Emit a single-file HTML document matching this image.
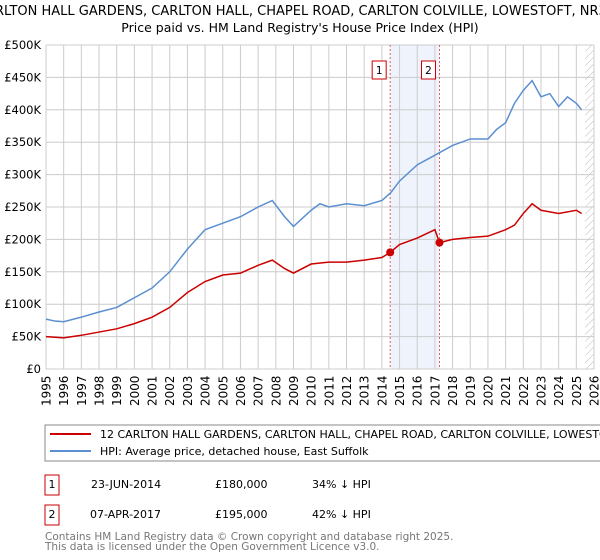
<!DOCTYPE html>
<html><head><meta charset="utf-8"><style>
body{margin:0;background:#fff;font-family:"Liberation Sans","DejaVu Sans",sans-serif;}
svg{display:block;}
svg text{font-family:"DejaVu Sans","Liberation Sans",sans-serif;}
</style></head><body>
<svg width="600" height="560" viewBox="0 0 600 560">
<defs><pattern id="h" width="5" height="5" patternUnits="userSpaceOnUse" patternTransform="rotate(45)"><line x1="0" y1="0" x2="0" y2="5" stroke="#bbb" stroke-width="1"/></pattern></defs>
<text x="300" y="15" text-anchor="middle" font-size="13">12 CARLTON HALL GARDENS, CARLTON HALL, CHAPEL ROAD, CARLTON COLVILLE, LOWESTOFT, NR33 8BL</text>
<text x="300" y="32" text-anchor="middle" font-size="12.5">Price paid vs. HM Land Registry's House Price Index (HPI)</text>
<g id="grid"></g><g id="marks"></g><g id="xlabels"></g>
<g>
<rect x="45" y="425" width="570" height="36" fill="#fff" stroke="#888"/>
<line x1="50" y1="434" x2="91" y2="434" stroke="#cc0000" stroke-width="2"/>
<text x="100" y="438" font-size="11">12 CARLTON HALL GARDENS, CARLTON HALL, CHAPEL ROAD, CARLTON COLVILLE, LOWESTOFT, NR33 8BL</text>
<line x1="50" y1="451" x2="91" y2="451" stroke="#5b8fd1" stroke-width="2"/>
<text x="100" y="455" font-size="11">HPI: Average price, detached house, East Suffolk</text>
</g>
<g font-size="11">
<rect x="45" y="475" width="14" height="20" fill="#fff" stroke="#cc0000"/><text x="52" y="488" text-anchor="middle">1</text>
<text x="91" y="488">23-JUN-2014</text><text x="215" y="488">£180,000</text><text x="312" y="488">34% ↓ HPI</text>
<rect x="45" y="505" width="14" height="20" fill="#fff" stroke="#cc0000"/><text x="52" y="518" text-anchor="middle">2</text>
<text x="90" y="518">07-APR-2017</text><text x="215" y="518">£195,000</text><text x="312" y="518">42% ↓ HPI</text>
</g>
<text x="45" y="540" font-size="10.5" fill="#777">Contains HM Land Registry data © Crown copyright and database right 2025.</text>
<text x="45" y="550" font-size="10.5" fill="#777">This data is licensed under the Open Government Licence v3.0.</text>
</svg>
<script>
const hpiYears=[1995,1995.5,1996,1997,1998,1999,2000,2001,2002,2003,2004,2005,2006,2007,2007.8,2008.5,2009,2010,2010.5,2011,2012,2013,2014,2014.5,2015,2016,2017,2018,2019,2020,2020.5,2021,2021.5,2022,2022.5,2023,2023.5,2024,2024.5,2025,2025.3];
const hpiValues=[77000,74000,73000,80000,88000,95000,110000,125000,150000,185000,215000,225000,235000,250000,260000,235000,220000,245000,255000,250000,255000,252000,260000,272000,290000,315000,330000,345000,355000,355000,370000,380000,410000,430000,445000,420000,425000,405000,420000,410000,400000];
const ppYears=[1995,1996,1997,1998,1999,2000,2001,2002,2003,2004,2005,2006,2007,2007.8,2008.5,2009,2010,2011,2012,2013,2014,2014.47,2015,2016,2017,2017.26,2018,2019,2020,2021,2021.5,2022,2022.5,2023,2024,2025,2025.3];
const ppValues=[50000,48000,52000,57000,62000,70000,80000,95000,118000,135000,145000,148000,160000,168000,155000,148000,162000,165000,165000,168000,172000,180000,192000,202000,215000,195000,200000,203000,205000,215000,222000,240000,255000,245000,240000,245000,240000];
const saleYears=[2014.47,2017.26];
const saleValues=[180000,195000];
const saleLabels=["1","2"];
const xTicks=[1995,1996,1997,1998,1999,2000,2001,2002,2003,2004,2005,2006,2007,2008,2009,2010,2011,2012,2013,2014,2015,2016,2017,2018,2019,2020,2021,2022,2023,2024,2025,2026];
const yTicks=[0,50000,100000,150000,200000,250000,300000,350000,400000,450000,500000];
const yTickLabels=["£0","£50K","£100K","£150K","£200K","£250K","£300K","£350K","£400K","£450K","£500K"];
const x0=46,x1=594,y0=369,yTop=45;
const X=y=>x0+(y-1995)/(2026-1995)*(x1-x0);
const Y=v=>y0-v/500000*(y0-yTop);
const NS="http://www.w3.org/2000/svg";
const grid=document.getElementById('grid'),marks=document.getElementById('marks');
function mk(p,tag,at){const e=document.createElementNS(NS,tag);for(const k in at)e.setAttribute(k,at[k]);p.appendChild(e);return e;}
const sh=mk(grid,'rect',{x:X(saleYears[0]),y:yTop,width:X(saleYears[1])-X(saleYears[0]),height:y0-yTop,fill:'#eef3fc'});


const ht=mk(grid,'rect',{x:X(2025.5),y:yTop,width:x1-X(2025.5),height:y0-yTop,fill:'url(#h)'});


const xl=document.getElementById('xlabels');
xTicks.forEach(yr=>{
 const l=mk(grid,'line',{x1:X(yr),x2:X(yr),y1:yTop,y2:y0,stroke:'#ccc','stroke-width':1});
 
 
 const s=String(yr), n=s.length, cx=X(yr)+4.5;
 const xs=[],ys=[];
 for(let k=0;k<n;k++){xs.push(cx);ys.push(406-k*7.6);}
 const t=mk(xl,'text',{x:xs.join(' '),y:ys.join(' '),rotate:'-90','font-size':12});
 t.textContent=s;
 
 
});
yTicks.forEach((v,i)=>{
 const l=mk(grid,'line',{x1:x0,x2:x1,y1:Y(v),y2:Y(v),stroke:'#ccc','stroke-width':1});
 
 
 const t=mk(grid,'text',{x:x0-5,y:Y(v)+4,'font-size':11.5,'text-anchor':'end'});
 t.textContent=yTickLabels[i];
 
 
});
saleYears.forEach((s,i)=>{
 const l=mk(grid,'line',{x1:X(s),x2:X(s),y1:yTop,y2:y0,stroke:'#e06060','stroke-width':1,'stroke-dasharray':'2,2'});
 
 
 const r=mk(grid,'rect',{x:X(s)-18,y:61,width:14,height:18,fill:'#fff',stroke:'#cc0000'});
 
 
 const t=mk(grid,'text',{x:X(s)-11,y:74,'font-size':10.5,'text-anchor':'middle'});
 t.textContent=saleLabels[i];
 
 
});
const hp=mk(marks,'polyline',{points:hpiYears.map((y,i)=>X(y)+','+Y(hpiValues[i])).join(' '),fill:'none',stroke:'#5b8fd1','stroke-width':1.5});


const pp=mk(marks,'polyline',{points:ppYears.map((y,i)=>X(y)+','+Y(ppValues[i])).join(' '),fill:'none',stroke:'#cc0000','stroke-width':1.5});


saleYears.forEach((s,i)=>{
 const c=mk(marks,'circle',{cx:X(s),cy:Y(saleValues[i]),r:4,fill:'#cc0000'});
 
 
});
</script>
</body></html>
